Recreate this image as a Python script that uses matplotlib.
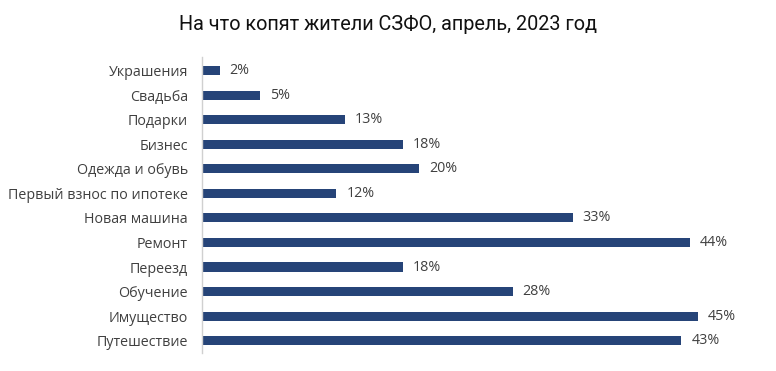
import matplotlib
matplotlib.use("Agg")
import matplotlib.pyplot as plt

categories = ["Украшения", "Свадьба", "Подарки", "Бизнес", "Одежда и обувь",
              "Первый взнос по ипотеке", "Новая машина", "Ремонт", "Переезд",
              "Обучение", "Имущество", "Путешествие"]
values = [1.6, 5.2, 12.9, 18.1, 19.6, 12.1, 33.4, 44.0, 18.1, 28.0, 44.7, 43.2]
labels = ["2%", "5%", "13%", "18%", "20%", "12%", "33%", "44%", "18%", "28%", "45%", "43%"]

bar_color = "#264478"
text_color = "#404040"

plt.rcParams['font.family'] = ['Open Sans', 'DejaVu Sans']

fig = plt.figure(figsize=(7.76, 3.71), dpi=100)
ax = fig.add_axes([0.2603, 0.0485, 0.715, 0.7979])

ypos = list(range(len(categories)))
ax.barh(ypos, values, height=0.37, color=bar_color)
for y, v, lab in zip(ypos, values, labels):
    ax.text(v + 0.9, y, lab, va="center", ha="left", fontsize=10.3, color=text_color)

ax.set_ylim(len(categories) - 0.5, -0.55)
ax.set_xlim(0, 50)
ax.set_yticks(ypos)
ax.set_yticklabels(categories, fontsize=10.3, color=text_color)
ax.tick_params(axis="y", length=0, pad=10)
ax.set_xticks([])
for s in ["top", "right", "bottom"]:
    ax.spines[s].set_visible(False)
ax.spines["left"].set_color("#d0d0d0")
ax.spines["left"].set_linewidth(1.0)

fig.text(0.5, 0.935, "На что копят жители СЗФО, апрель, 2023 год", ha="center", va="center",
         fontsize=14.3, color="#111111", family=['Roboto', 'DejaVu Sans'])

fig.savefig("out.png", dpi=100)
